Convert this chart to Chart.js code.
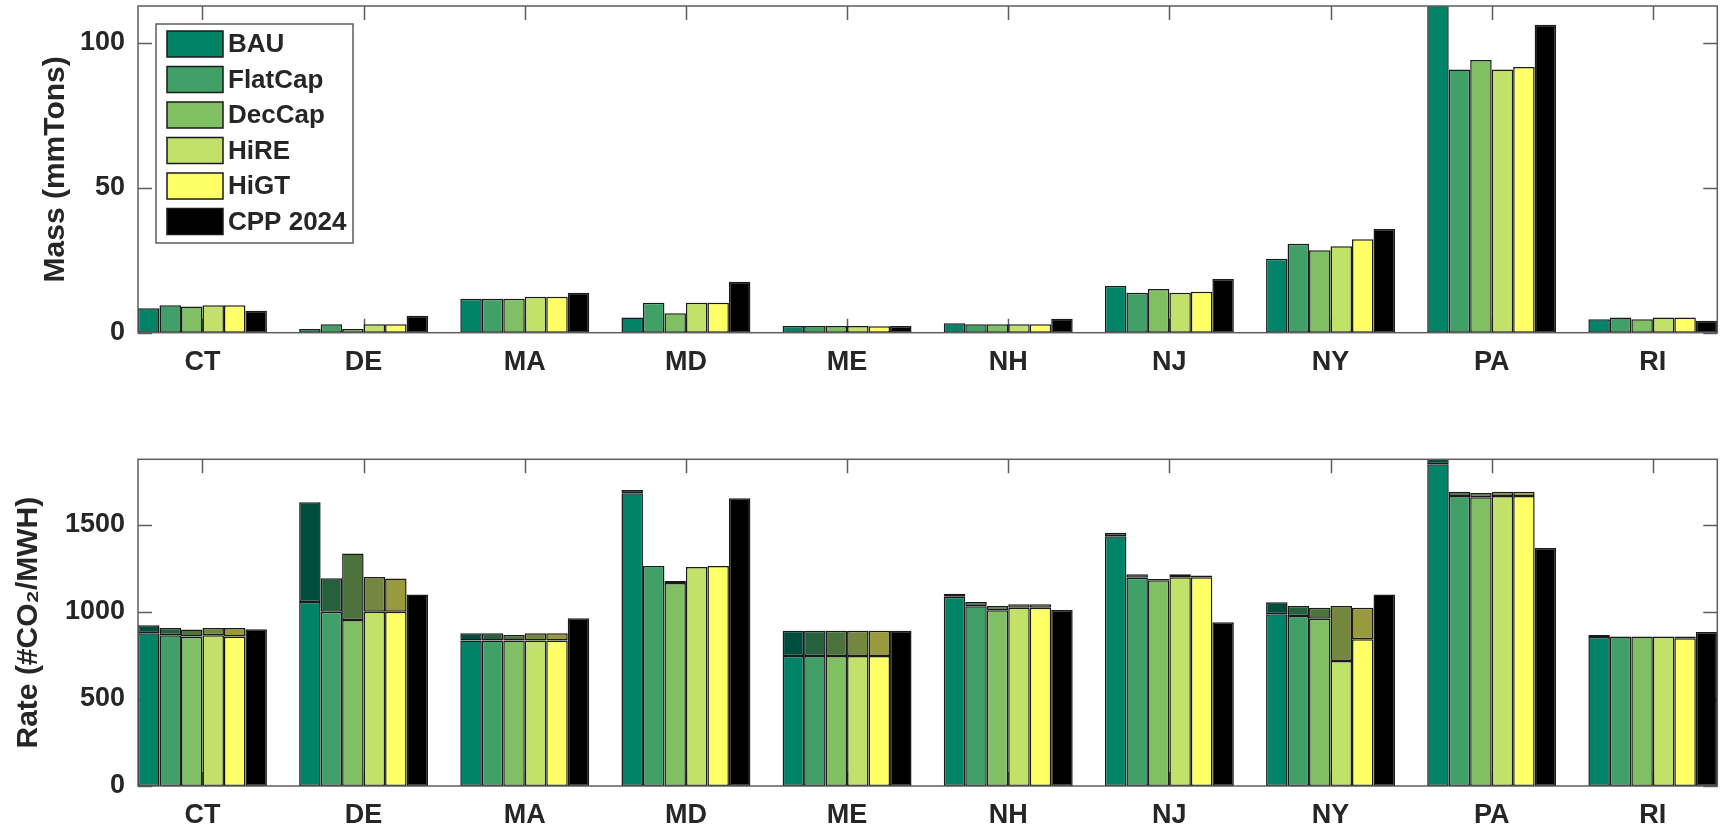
<!DOCTYPE html>
<html>
<head>
<meta charset="utf-8">
<script src="https://cdn.jsdelivr.net/npm/chart.js@4.4.1/dist/chart.umd.min.js"></script>
<style>
  html, body { margin: 0; padding: 0; background: #fff; }
  #wrap { position: relative; width: 1723px; height: 830px; }
  canvas { position: absolute; left: 0; }
</style>
</head>
<body>
<div id="wrap">
  <canvas id="mass" width="1723" height="400" style="top:0"></canvas>
  <canvas id="rate" width="1723" height="430" style="top:400px"></canvas>
</div>
<script>
// states on the x axis, scenarios in each group
const states = ['CT', 'DE', 'MA', 'MD', 'ME', 'NH', 'NJ', 'NY', 'PA', 'RI'];
const scenarios = ['BAU', 'FlatCap', 'DecCap', 'HiRE', 'HiGT', 'CPP 2024'];
const massTicks = [0, 50, 100];
const rateTicks = [0, 500, 1000, 1500];

// Mass (mmTons)
const massBAU     = [8.4, 1.3, 11.7, 5.2, 2.3, 3.3, 16.1, 25.5, 115, 4.6];
const massFlatCap = [9.5, 2.9, 11.7, 10.3, 2.3, 2.9, 13.8, 30.7, 90.7, 5.2];
const massDecCap  = [9.0, 1.3, 11.7, 6.7, 2.3, 2.9, 15.1, 28.4, 94.0, 4.6];
const massHiRE    = [9.5, 2.9, 12.4, 10.3, 2.3, 2.9, 13.8, 29.8, 90.7, 5.2];
const massHiGT    = [9.5, 2.9, 12.4, 10.3, 2.2, 2.9, 14.1, 32.2, 91.6, 5.2];
const massCPP     = [7.6, 5.8, 13.8, 17.6, 2.3, 4.8, 18.5, 35.7, 106.1, 4.1];

// Rate (#CO2/MWH): lower part and full height of each stacked bar
const rateBAUBase     = [876, 1056, 834, 1679, 746, 1086, 1433, 985, 1846, 855];
const rateBAUTop      = [922, 1628, 876, 1698, 891, 1103, 1452, 1054, 1890, 866];
const rateFlatCapBase = [865, 1000, 834, 1262, 746, 1031, 1195, 975, 1664, 857];
const rateFlatCapTop  = [906, 1191, 876, 1262, 891, 1056, 1214, 1033, 1688, 857];
const rateDecCapBase  = [857, 952, 834, 1165, 746, 1008, 1180, 960, 1656, 857];
const rateDecCapTop   = [897, 1333, 866, 1176, 891, 1033, 1188, 1023, 1681, 857];
const rateHiREBase    = [865, 1000, 834, 1256, 746, 1023, 1197, 717, 1664, 857];
const rateHiRETop     = [906, 1199, 876, 1256, 891, 1042, 1214, 1033, 1688, 857];
const rateHiGTBase    = [857, 1000, 834, 1262, 746, 1023, 1197, 842, 1664, 847];
const rateHiGTTop     = [906, 1190, 876, 1262, 891, 1042, 1207, 1023, 1688, 857];
const rateCPP         = [899, 1098, 962, 1650, 891, 1010, 939, 1098, 1365, 884];

const fillColors = ['#008366', '#41a067', '#80bf64', '#c1e169', '#ffff66', '#000000'];
const darkColors = ['#004e3d', '#27603e', '#4c733c', '#73873f', '#99993d'];

const FONT = '"Liberation Sans", Arial, Helvetica, sans-serif';
const TEXT = '#262626';
const AXIS = '#5e5e5e';

const massSeries = [massBAU, massFlatCap, massDecCap, massHiRE, massHiGT, massCPP];
const rateBase = [rateBAUBase, rateFlatCapBase, rateDecCapBase, rateHiREBase, rateHiGTBase];
const rateTop = [rateBAUTop, rateFlatCapTop, rateDecCapTop, rateHiRETop, rateHiGTTop];

const toPoints = (arr) => arr.map((v, i) => ({ x: i + 1, y: v }));

const barStyle = {
  borderColor: '#1a1a1a',
  borderWidth: 1.5,
  borderSkipped: false,
  categoryPercentage: 0.8,
  barPercentage: 1.0
};

// inside ticks, drawn under the bars, and the axes box on top
const innerTicks = {
  id: 'innerTicks',
  beforeDatasetsDraw(chart, args, opts) {
    const { ctx, chartArea: a, scales: { x, y } } = chart;
    ctx.save();
    ctx.strokeStyle = AXIS;
    ctx.lineWidth = 1.5;
    ctx.beginPath();
    states.forEach((s, i) => {
      const px = Math.round(x.getPixelForValue(i + 1)) + 0.5;
      ctx.moveTo(px, a.top); ctx.lineTo(px, a.top + 14);
      ctx.moveTo(px, a.bottom); ctx.lineTo(px, a.bottom - 14);
    });
    opts.values.forEach(v => {
      const py = Math.round(y.getPixelForValue(v)) + 0.5;
      ctx.moveTo(a.left, py); ctx.lineTo(a.left + 14, py);
      ctx.moveTo(a.right, py); ctx.lineTo(a.right - 14, py);
    });
    ctx.stroke();
    ctx.restore();
  },
  afterDatasetsDraw(chart) {
    const { ctx, chartArea: a } = chart;
    ctx.save();
    ctx.strokeStyle = AXIS;
    ctx.lineWidth = 1.5;
    ctx.strokeRect(a.left, a.top, a.right - a.left, a.bottom - a.top);
    ctx.restore();
  }
};

// boxed legend in the upper left corner of the mass panel
const boxLegend = {
  id: 'boxLegend',
  afterDraw(chart) {
    const { ctx, chartArea: a } = chart;
    const x0 = a.left + 18, y0 = a.top + 18;
    ctx.save();
    ctx.fillStyle = '#fff';
    ctx.fillRect(x0, y0, 197, 219);
    ctx.strokeStyle = AXIS;
    ctx.lineWidth = 1.5;
    ctx.strokeRect(x0, y0, 197, 219);
    chart.data.datasets.forEach((ds, i) => {
      const sy = y0 + 7 + i * 35.5;
      ctx.fillStyle = ds.backgroundColor;
      ctx.fillRect(x0 + 11, sy, 56, 26);
      ctx.strokeStyle = '#1a1a1a';
      ctx.strokeRect(x0 + 11, sy, 56, 26);
      ctx.fillStyle = TEXT;
      ctx.font = 'bold 26px ' + FONT;
      ctx.textBaseline = 'middle';
      ctx.fillText(ds.label, x0 + 72, sy + 14);
    });
    ctx.restore();
  }
};

function axes(yMax, yTicks, title, titlePad, labelPad, xHeight) {
  return {
    x: {
      type: 'linear',
      min: 0.6,
      max: 10.4,
      bounds: 'data',
      offset: false,
      ticks: {
        autoSkip: false,
        maxRotation: 0,
        padding: labelPad,
        color: TEXT,
        font: { family: FONT, size: 27, weight: 'bold' },
        callback: (v) => states[v - 1] ?? ''
      },
      afterBuildTicks: (s) => { s.ticks = states.map((_, i) => ({ value: i + 1 })); },
      grid: { display: false, drawTicks: false, offset: false },
      border: { display: false },
      afterFit: (s) => { s.height = xHeight; s.paddingLeft = 0; s.paddingRight = 0; }
    },
    y: {
      min: 0,
      max: yMax,
      bounds: 'data',
      ticks: {
        padding: 13,
        color: TEXT,
        font: { family: FONT, size: 27, weight: 'bold' },
        callback: (v) => String(v)
      },
      afterBuildTicks: (s) => { s.ticks = yTicks.map(v => ({ value: v })); },
      grid: { display: false, drawTicks: false },
      border: { display: false },
      title: {
        display: true,
        text: title,
        color: TEXT,
        font: { family: FONT, size: 30, weight: 'bold' },
        padding: { top: titlePad, bottom: 0 }
      },
      afterFit: (s) => { s.width = 138; s.paddingTop = 0; s.paddingBottom = 0; }
    }
  };
}

new Chart(document.getElementById('mass'), {
  type: 'bar',
  data: {
    datasets: scenarios.map((name, i) => ({
      label: name,
      data: toPoints(massSeries[i]),
      backgroundColor: fillColors[i],
      ...barStyle
    }))
  },
  options: {
    responsive: false,
    animation: false,
    layout: { padding: { top: 6, right: 5.7, left: 0, bottom: 0 } },
    plugins: { legend: { display: false }, tooltip: { enabled: false }, innerTicks: { values: massTicks } },
    scales: axes(112.6, massTicks, 'Mass (mmTons)', 38, 13.5, 67.3)
  },
  plugins: [innerTicks, boxLegend]
});

const rateSets = [];
scenarios.slice(0, 5).forEach((name, i) => {
  rateSets.push({
    label: name,
    stack: name,
    data: toPoints(rateBase[i]),
    backgroundColor: fillColors[i],
    ...barStyle
  });
  rateSets.push({
    label: name + ' top',
    stack: name,
    data: toPoints(rateTop[i].map((t, j) => t - rateBase[i][j])),
    backgroundColor: darkColors[i],
    ...barStyle
  });
});
rateSets.push({
  label: scenarios[5],
  stack: scenarios[5],
  data: toPoints(rateCPP),
  backgroundColor: fillColors[5],
  ...barStyle
});

const rateScales = axes(1874, rateTicks, 'Rate (#CO\u2082/MWH)', 11, 13.5, 44);
rateScales.y.stacked = true;

new Chart(document.getElementById('rate'), {
  type: 'bar',
  data: { datasets: rateSets },
  options: {
    responsive: false,
    animation: false,
    layout: { padding: { top: 59.3, right: 5.7, left: 0, bottom: 0 } },
    plugins: { legend: { display: false }, tooltip: { enabled: false }, innerTicks: { values: rateTicks } },
    scales: rateScales
  },
  plugins: [innerTicks]
});
</script>
</body>
</html>
